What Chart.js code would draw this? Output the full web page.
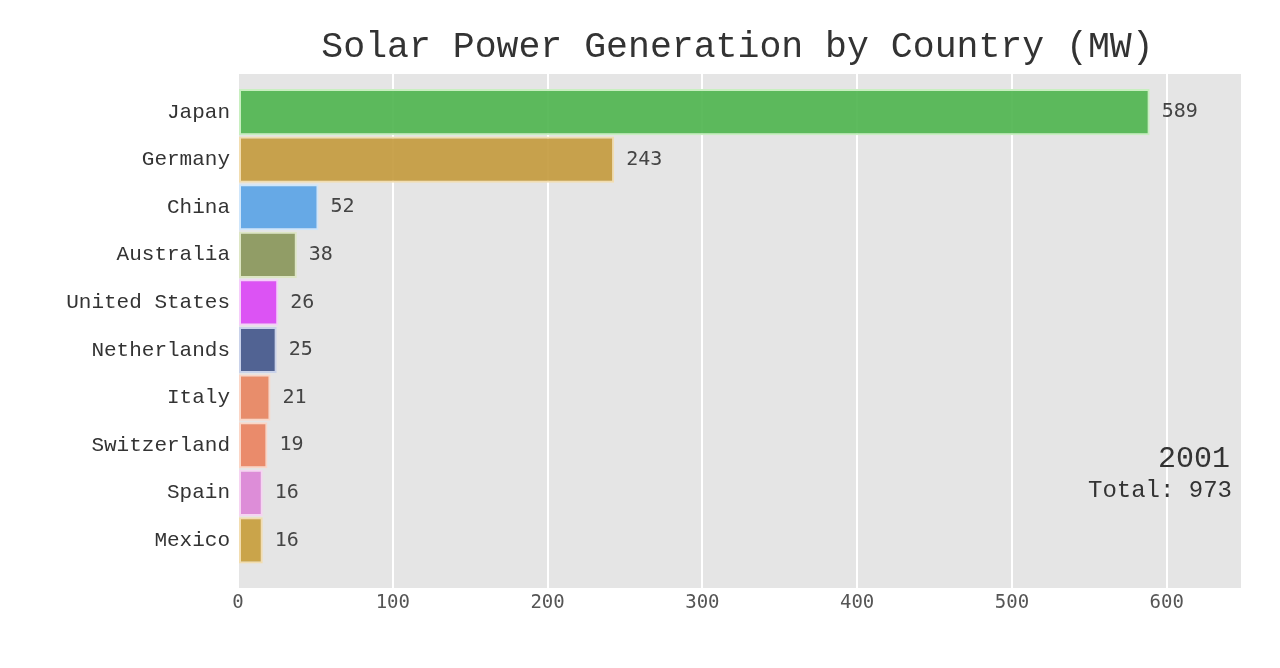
<!DOCTYPE html>
<html>
<head>
<meta charset="utf-8">
<script src="https://cdn.jsdelivr.net/npm/chart.js@4/dist/chart.umd.min.js"></script>
<style>
html,body{margin:0;padding:0;background:#fff;}
#wrap{width:1280px;height:668px;}
</style>
</head>
<body>
<div id="wrap"><canvas id="c" width="1280" height="668"></canvas></div>
<script>
const titleText = "Solar Power Generation by Country (MW)";
const yearLabel = "2001";
const totalLabel = "Total: 973";
const countries = ["Japan","Germany","China","Australia","United States","Netherlands","Italy","Switzerland","Spain","Mexico"];
const values = [589, 243, 52, 38, 26, 25, 21, 19, 16, 16];
const xTicks = [0, 100, 200, 300, 400, 500, 600];
const barColors = ["#4eb44e","#c49a3c","#59a3e6","#889659","#db44f5","#42568a","#e8845f","#ea825f","#dc84d6","#c79d3a"];
const borderColors = ["#c8efc0","#f2ddb0","#cfe6fb","#dde6c4","#f6cdfb","#c9d2ea","#fbd6c6","#fbd6c6","#f6d4f2","#f2ddb0"];

const points = values.map((v, i) => ({x: v, y: i}));

const bgPlugin = {
  id: 'bg',
  beforeDraw(chart) {
    const {ctx, chartArea: a} = chart;
    ctx.save();
    ctx.fillStyle = '#e5e5e5';
    ctx.fillRect(a.left, a.top, a.right - a.left, a.bottom - a.top);
    ctx.restore();
  },
  afterDraw(chart) {
    const {ctx, chartArea: a} = chart;
    ctx.save();
    ctx.fillStyle = '#333';
    ctx.font = '36.5px "Liberation Mono", monospace';
    ctx.textAlign = 'center';
    ctx.textBaseline = 'alphabetic';
    ctx.fillText(titleText, (a.left + a.right) / 2 - 2, 57);
    ctx.textAlign = 'right';
    ctx.fillStyle = '#333';
    ctx.font = '30px "Liberation Mono", monospace';
    ctx.fillText(yearLabel, a.right - 11, 467);
    ctx.font = '24px "Liberation Mono", monospace';
    ctx.fillText(totalLabel, a.right - 9, 497);
    // value labels
    const meta = chart.getDatasetMeta(0);
    ctx.textAlign = 'left';
    ctx.textBaseline = 'middle';
    ctx.fillStyle = '#444';
    ctx.font = '20px "DejaVu Sans Mono", monospace';
    meta.data.forEach((el, i) => {
      ctx.fillText(String(values[i]), el.x + 12, el.y);
    });
    ctx.restore();
  }
};

new Chart(document.getElementById('c'), {
  type: 'bar',
  data: {
    datasets: [{
      data: points,
      backgroundColor: barColors.map(c => c + 'e8'),
      borderColor: borderColors,
      borderWidth: 2,
      borderSkipped: false,
      barPercentage: 1,
      categoryPercentage: 0.97
    }]
  },
  options: {
    indexAxis: 'y',
    responsive: false,
    animation: false,
    layout: {padding: {top: 74, right: 39, left: 0, bottom: 0}},
    plugins: {legend: {display: false}, tooltip: {enabled: false}, title: {display: false}},
    scales: {
      x: {
        type: 'linear',
        min: 0,
        max: 648,
        afterBuildTicks: (axis) => { axis.ticks = xTicks.map(v => ({value: v})); },
        afterFit: (axis) => { axis.height = 80; },
        border: {display: false},
        grid: {color: '#ffffff', lineWidth: 2, drawTicks: false},
        ticks: {color: '#555', font: {family: '"DejaVu Sans Mono", monospace', size: 19}, padding: 4, maxRotation: 0}
      },
      y: {
        type: 'linear',
        reverse: true,
        offset: false,
        min: -0.8,
        max: 10,
        afterBuildTicks: (axis) => { axis.ticks = countries.map((_, i) => ({value: i})); },
        afterFit: (axis) => { axis.width = 238; },
        border: {display: false},
        grid: {display: false, drawTicks: false},
        ticks: {
          color: '#333',
          font: {family: '"Liberation Mono", monospace', size: 21},
          padding: 8,
          callback: (v) => countries[v] ?? ''
        }
      }
    }
  },
  plugins: [bgPlugin]
});
</script>
</body>
</html>
